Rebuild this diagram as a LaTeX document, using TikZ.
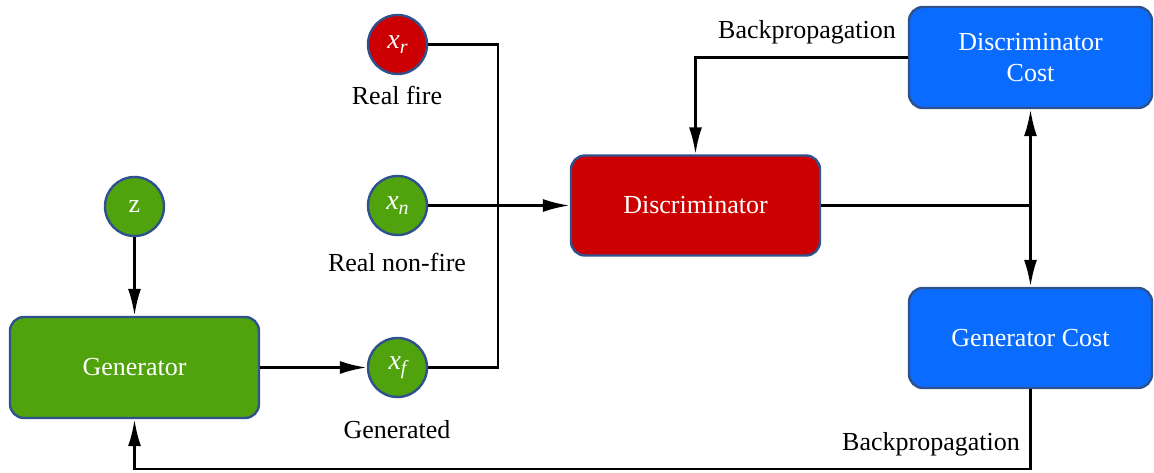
\documentclass[tikz,border=0pt]{standalone}
\usepackage{fontspec}
\setmainfont{Liberation Serif}
\usetikzlibrary{arrows.meta}
\definecolor{firered}{HTML}{CC0000}
\definecolor{leafgreen}{HTML}{51A30D}
\definecolor{costblue}{HTML}{0A6CFF}
\definecolor{rimblue}{HTML}{2F528F}
\newcommand{\sample}[1]{{\fontsize{28}{28}\selectfont\itshape x}\raisebox{-0.45ex}{\fontsize{20}{20}\selectfont\itshape #1}}
\tikzset{
  every node/.style={font=\fontsize{26}{31}\selectfont},
  blob/.style={circle, draw=rimblue, line width=2.4pt, minimum size=59pt, inner sep=0pt, text=white},
  card/.style={rectangle, rounded corners=14pt, draw=rimblue, line width=2.4pt, inner sep=0pt, text=white, align=center},
  wire/.style={line width=2.8pt, draw=black},
  flow/.style={wire, -{Latex[length=27pt,width=13pt]}},
  caption/.style={text=black}
}
\begin{document}
\begin{tikzpicture}[x=1pt,y=-1pt]
\useasboundingbox (0,0) rectangle (1154,472);

% input samples
\node[blob, fill=firered]   (xr) at (397.5,44.5)  {\sample{r}};
\node[blob, fill=leafgreen] (xn) at (397.5,205.5) {\sample{n}};
\node[blob, fill=leafgreen] (xf) at (397.5,367.5) {\sample{f}};
\node[blob, fill=leafgreen] (z)  at (134.5,206.5) {z};

\node[caption] (lr) at (397,95)  {Real fire};
\node[caption] (ln) at (397,262) {Real non-fire};
\node[caption] (lf) at (397,430) {Generated};

% networks
\node[card, fill=leafgreen, minimum width=249pt, minimum height=101pt] (gen)  at (134.5,367.5) {Generator};
\node[card, fill=firered,   minimum width=249pt, minimum height=100pt] (disc) at (695.5,205.5) {Discriminator};
\node[card, fill=costblue,  minimum width=243pt, minimum height=101pt] (dcost) at (1030.5,57.5) {Discriminator\\Cost};
\node[card, fill=costblue,  minimum width=243pt, minimum height=100pt] (gcost) at (1030.5,338)  {Generator Cost};

% junction points
\coordinate (split) at (1030.5,205.5);
\coordinate (bottom) at (1030.5,469);

% samples into the discriminator
\draw[wire] (xr.east) -| (498,367.5) -- (xf.east);
\draw[flow] (xn.east) -- (disc.west);

% generator path
\draw[flow] (z.south) -- (gen.north);
\draw[flow] (gen.east) -- (xf.west);

% discriminator output to both costs
\draw[wire] (disc.east) -- (split);
\draw[flow] (split) -- (dcost.south);
\draw[flow] (split) -- (gcost.north);

% backpropagation loops
\draw[flow] (dcost.west) -| (disc.north);
\draw[flow] (gcost.south) -- (bottom) -| (gen.south);

\node[caption] (bp1) at (807,32)  {Backpropagation};
\node[caption] (bp2) at (931,444) {Backpropagation};
\end{tikzpicture}
\end{document}
